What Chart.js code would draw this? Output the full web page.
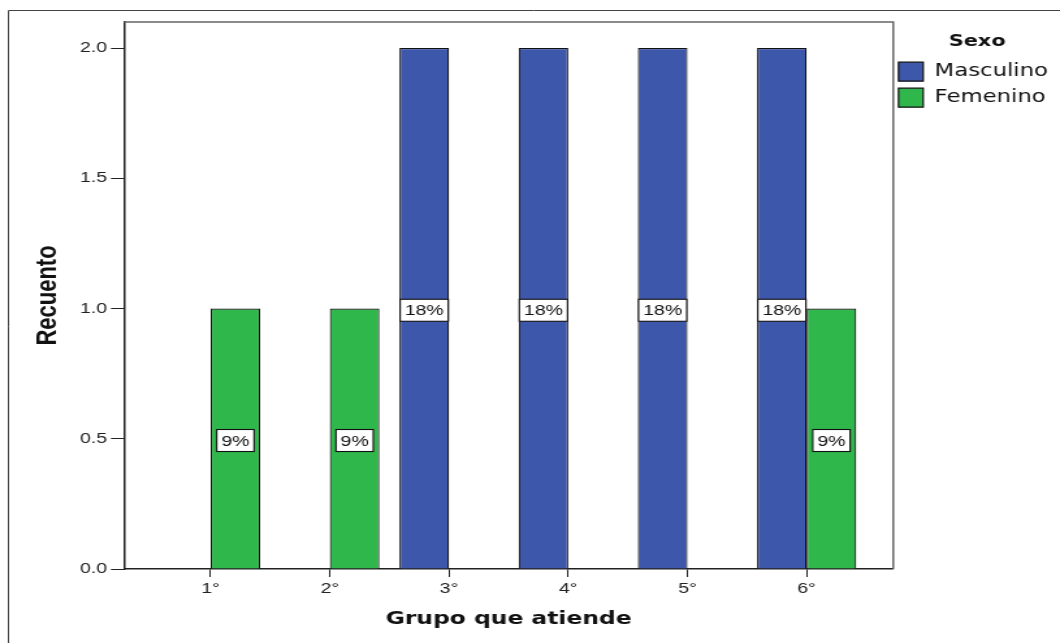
<!DOCTYPE html>
<html>
<head>
<meta charset="utf-8">
<script src="https://cdn.jsdelivr.net/npm/chart.js@4"></script>
<style>
  html, body { margin: 0; padding: 0; background: #fff; }
</style>
</head>
<body>
<!-- the original picture is stretched sideways, so the canvas is drawn narrower and widened by CSS -->
<canvas id="chart" width="815" height="643" style="display:block;width:1060px;height:643px"></canvas>
<script>
const grupos = ["1°", "2°", "3°", "4°", "5°", "6°"];
const masculino = [0, 0, 2, 2, 2, 2];
const femenino = [1, 1, 0, 0, 0, 1];
const yTicks = [0, 0.5, 1, 1.5, 2];
const seriesNames = ["Masculino", "Femenino"];

const total = [...masculino, ...femenino].reduce((a, b) => a + b, 0);
const sidePad = 27 / 119;

function toPoints(values) {
  return values.map((v, i) => ({ x: i + 1, y: v > 0 ? v : null }));
}

const percentLabels = {
  id: "percentLabels",
  afterDatasetsDraw(chart) {
    const ctx = chart.ctx;
    ctx.save();
    ctx.font = "15px 'Liberation Sans', Arial, sans-serif";
    ctx.textAlign = "center";
    ctx.textBaseline = "middle";
    chart.data.datasets.forEach((ds, di) => {
      const meta = chart.getDatasetMeta(di);
      meta.data.forEach((bar, i) => {
        const v = ds.data[i].y;
        if (!v) return;
        const text = Math.round(v / total * 100) + "%";
        const w = ctx.measureText(text).width + 7;
        const h = 22;
        const cx = bar.x;
        const cy = (bar.y + bar.base) / 2 + 2;
        ctx.fillStyle = "#fff";
        ctx.fillRect(cx - w / 2, cy - h / 2, w, h);
        ctx.strokeStyle = "#111";
        ctx.lineWidth = 1.1;
        ctx.strokeRect(cx - w / 2, cy - h / 2, w, h);
        ctx.fillStyle = "#111";
        ctx.fillText(text, cx, cy + 1);
      });
    });
    ctx.restore();
  }
};

const frames = {
  id: "frames",
  beforeDatasetsDraw(chart) {
    const { ctx, chartArea: a } = chart;
    ctx.save();
    // top and right edge of the plot box
    ctx.strokeStyle = "#666";
    ctx.lineWidth = 1.5;
    ctx.beginPath();
    ctx.moveTo(a.left, a.top);
    ctx.lineTo(a.right, a.top);
    ctx.lineTo(a.right, a.bottom);
    ctx.stroke();
    // outer frame of the picture
    ctx.strokeStyle = "#444";
    ctx.lineWidth = 1;
    ctx.beginPath();
    ctx.moveTo(6.5, chart.height);
    ctx.lineTo(6.5, 10.5);
    ctx.lineTo(chart.width, 10.5);
    ctx.stroke();
    ctx.restore();
  }
};

Chart.defaults.font.family = "'Liberation Sans', Arial, sans-serif";

new Chart(document.getElementById("chart"), {
  type: "bar",
  data: {
    datasets: [
      {
        label: seriesNames[0],
        data: toPoints(masculino),
        backgroundColor: "#3d57aa",
        borderColor: "#111",
        borderWidth: 1.2
      },
      {
        label: seriesNames[1],
        data: toPoints(femenino),
        backgroundColor: "#2fb74b",
        borderColor: "#111",
        borderWidth: 1.2
      }
    ]
  },
  options: {
    responsive: false,
    animation: false,
    devicePixelRatio: 1,
    layout: { padding: { top: 22, right: -0.75, bottom: 0, left: 0 } },
    datasets: { bar: { categoryPercentage: 0.832, barPercentage: 1 } },
    scales: {
      x: {
        type: "linear",
        min: 0.5 - sidePad,
        max: grupos.length + 0.5 + sidePad,
        offset: false,
        grid: { offset: false, drawOnChartArea: false, drawTicks: true, tickLength: 8, tickColor: "#222" },
        border: { display: true, color: "#222", width: 1.5 },
        ticks: {
          color: "#222",
          font: { size: 15 },
          padding: 3,
          maxRotation: 0,
          autoSkip: false,
          callback: (v) => grupos[v - 1] ?? ""
        },
        afterBuildTicks: (s) => { s.ticks = grupos.map((g, i) => ({ value: i + 1 })); },
        afterFit: (s) => { s.height = 74; },
        title: {
          display: true,
          text: "Grupo que atiende",
          color: "#111",
          font: { family: "'DejaVu Sans', sans-serif", weight: "bold", size: 18 },
          padding: { top: 10, bottom: 13 }
        }
      },
      y: {
        min: 0,
        max: 2.1,
        grid: { drawOnChartArea: false, tickLength: 10, tickColor: "#222" },
        border: { display: true, color: "#222", width: 1.5 },
        ticks: {
          color: "#222",
          font: { size: 15 },
          padding: 3,
          callback: (v) => v.toFixed(1)
        },
        afterBuildTicks: (s) => { s.ticks = yTicks.map((v) => ({ value: v })); },
        afterFit: (s) => { s.width = 95.3; },
        title: {
          display: true,
          text: "Recuento",
          color: "#111",
          font: { family: "'Liberation Sans Narrow', 'Liberation Sans', sans-serif", weight: "bold", size: 22 },
          padding: { top: 24, bottom: 0 }
        }
      }
    },
    plugins: {
      tooltip: { enabled: false },
      legend: {
        position: "right",
        align: "start",
        title: {
          display: true,
          text: "Sexo",
          color: "#111",
          font: { family: "'DejaVu Sans', sans-serif", weight: "bold", size: 16 },
          padding: { top: 12, bottom: 5 }
        },
        labels: {
          boxWidth: 19,
          boxHeight: 19,
          padding: 4,
          color: "#111",
          font: { family: "'DejaVu Sans', sans-serif", size: 17.5, lineHeight: 22 / 17.5 },
          // one-line arrays so each row takes the font's line height, not the box height
          generateLabels: (chart) =>
            Chart.defaults.plugins.legend.labels.generateLabels(chart).map((l) => ({ ...l, text: [l.text] }))
        }
      }
    }
  },
  plugins: [frames, percentLabels]
});
</script>
</body>
</html>
